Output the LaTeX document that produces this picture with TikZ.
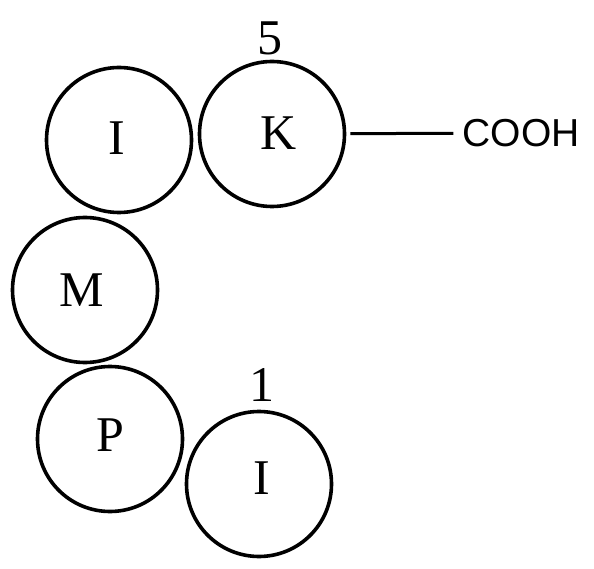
\documentclass[tikz,border=0pt]{standalone}
\usepackage{fontspec}
\setmainfont{Liberation Serif}
\newfontfamily\groupfont{Liberation Sans}
\usetikzlibrary{positioning}

\begin{document}
\begin{tikzpicture}[
    x=1pt,y=-1pt,
    residue/.style={circle,draw=black,line width=3.6pt,minimum size=145pt,inner sep=0pt},
    resname/.style={inner sep=0pt,font=\fontsize{50}{50}\selectfont},
    posnum/.style={inner sep=0pt,font=\fontsize{50}{50}\selectfont},
    group/.style={inner sep=0pt,font=\groupfont\fontsize{39}{39}\selectfont},
    bond/.style={line width=3pt}
    ]
    \useasboundingbox (0,0) rectangle (594,569);
    \node (ione) [residue,label={[resname,xshift=-2pt,yshift=2pt]center:I}] at (119,140) {};
    \node (k) [residue,label={[resname,xshift=7pt,yshift=1pt]center:K}] at (272,134) {};
    \node (m) [residue,label={[resname,xshift=-3pt]center:M}] at (85,290) {};
    \node (p) [residue,label={[resname,yshift=4pt]center:P}] at (110,439) {};
    \node (itwo) [residue,label={[resname,xshift=3pt,yshift=6pt]center:I}] at (259,484) {};
    \node (five) [posnum,above=5pt of k,xshift=-2pt] {5};
    \node (one) [posnum,above=8pt of itwo,xshift=3pt] {1};
    \node (cooh) [group] at (521,133) {COOH};
    \draw[bond,shorten <=4pt,shorten >=9pt] (k) -- (cooh);
  \end{tikzpicture}
\end{document}
